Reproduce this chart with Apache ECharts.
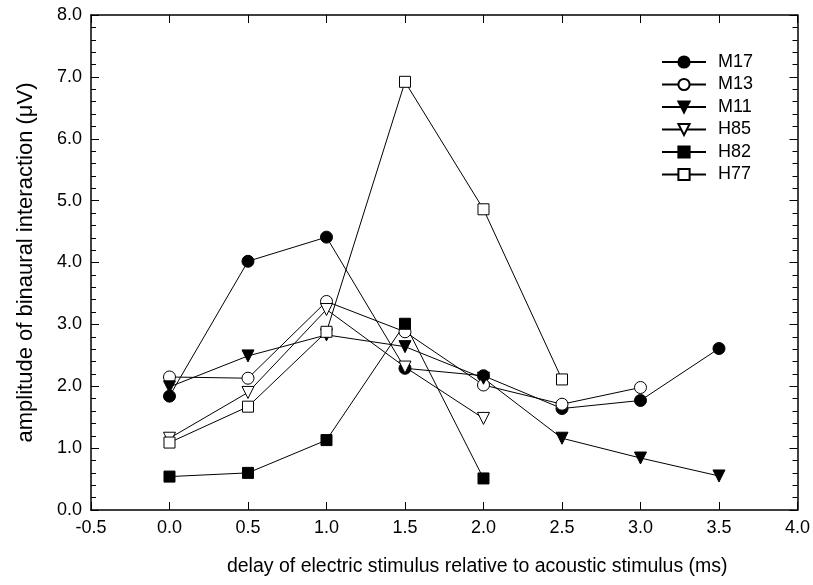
<!DOCTYPE html>
<html><head><meta charset="utf-8">
<script src="https://cdn.jsdelivr.net/npm/echarts@6/dist/echarts.min.js"></script>
<style>html,body{margin:0;padding:0;background:#fff}#c{width:813px;height:585px}</style>
</head><body><div id="c"></div>
<script>
const seriesNames = ['M17','M13','M11','H85','H82','H77'];
const M17 = [[0,1.84],[0.5,4.02],[1.0,4.41],[1.5,2.29],[2.0,2.17],[2.5,1.64],[3.0,1.77],[3.5,2.61]];
const M13 = [[0,2.15],[0.5,2.13],[1.0,3.37],[1.5,2.88],[2.0,2.02],[2.5,1.71],[3.0,1.98]];
const M11 = [[0,1.99],[0.5,2.49],[1.0,2.83],[1.5,2.64],[2.0,2.13],[2.5,1.16],[3.0,0.84],[3.5,0.55]];
const H85 = [[0,1.16],[0.5,1.90],[1.0,3.24],[1.5,2.31],[2.0,1.48]];
const H82 = [[0,0.54],[0.5,0.60],[1.0,1.13],[1.5,3.01],[2.0,0.51]];
const H77 = [[0,1.09],[0.5,1.67],[1.0,2.88],[1.5,6.92],[2.0,4.86],[2.5,2.11]];
const dataSets = [M17,M13,M11,H85,H82,H77];
const symbols = ['circle','circle','path://M0,0 L10,0 L5,9 Z','path://M0,0 L10,0 L5,9 Z','rect','rect'];
const filled = [true,false,true,false,true,false];
const sizes = [12,12,12,12,11,11];

const font = 'Liberation Sans, Arial, sans-serif';
const chart = echarts.init(document.getElementById('c'));
const baseX = {type:'value',min:-0.5,max:4,interval:0.5,
  axisLine:{show:true,onZero:false,lineStyle:{color:'#000',width:1.5}},
  axisTick:{show:true,inside:true,length:8,lineStyle:{color:'#000',width:1}},
  splitLine:{show:false}};
const baseY = {type:'value',min:0,max:8,interval:1,
  axisLine:{show:true,onZero:false,lineStyle:{color:'#000',width:1.5}},
  axisTick:{show:true,inside:true,length:8,lineStyle:{color:'#000',width:1}},
  minorTick:{show:true,splitNumber:5,length:5,lineStyle:{color:'#000',width:1}},
  splitLine:{show:false}};
chart.setOption({
  animation:false,
  backgroundColor:'#fff',
  grid:{left:91,right:15,top:15,bottom:75},
  legend:{
    data:seriesNames, orient:'vertical', left:656, top:48,
    itemWidth:44, itemHeight:14, itemGap:4.5,
    textStyle:{fontFamily:font,fontSize:18,lineHeight:18,color:'#000',padding:[0,0,0,7]}
  },
  xAxis:[
    Object.assign({},baseX,{position:'bottom',
      name:'delay of electric stimulus relative to acoustic stimulus (ms)',
      nameLocation:'middle',nameGap:47,
      nameTextStyle:{fontFamily:font,fontSize:19.5,color:'#000',padding:[0,0,0,66]},
      axisLabel:{fontFamily:font,fontSize:18,color:'#000',margin:9,formatter:v=>v.toFixed(1)}}),
    Object.assign({},baseX,{position:'top',axisLabel:{show:false}})
  ],
  yAxis:[
    Object.assign({},baseY,{position:'left',
      name:'amplitude of binaural interaction (\u03bcV)',
      nameLocation:'middle',nameGap:54,
      nameTextStyle:{fontFamily:font,fontSize:22,color:'#000'},
      axisLabel:{fontFamily:font,fontSize:18,color:'#000',margin:9,formatter:v=>v.toFixed(1)}}),
    Object.assign({},baseY,{position:'right',axisLabel:{show:false}})
  ],
  series: seriesNames.map((n,i)=>({
    name:n,type:'line',data:dataSets[i],xAxisIndex:0,yAxisIndex:0,
    symbol:symbols[i],symbolSize:sizes[i],showAllSymbol:true,
    lineStyle:{color:'#000',width:1},
    itemStyle:{color:filled[i]?'#000':'#fff',borderColor:'#000',borderWidth:1},
    emphasis:{disabled:true}
  }))
});
</script></body></html>
